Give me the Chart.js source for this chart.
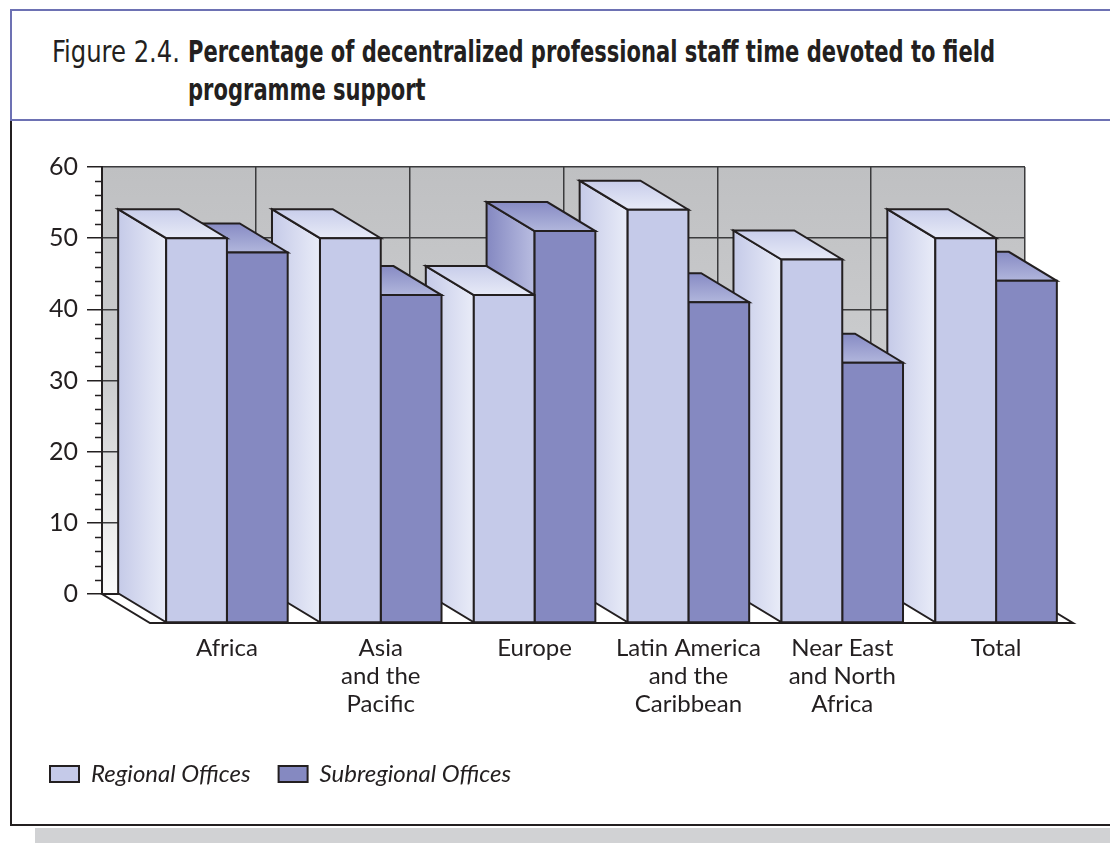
<!DOCTYPE html>
<html>
<head>
<meta charset="utf-8">
<title>Figure 2.4</title>
<script src="https://cdn.jsdelivr.net/npm/chart.js@4"></script>
<style>
  html, body { margin: 0; padding: 0; background: #fff; }
  body { width: 1110px; height: 843px; position: relative; overflow: hidden; color: #231f20; }
  #title-box {
    position: absolute; left: 10px; top: 9px; width: 1100px; height: 108px;
    border-top: 2px solid #6d71b3; border-left: 2px solid #6d71b3; border-bottom: 2px solid #6d71b3;
  }
  .fig {
    position: absolute; top: 32px; white-space: nowrap;
    font-family: "Liberation Sans Narrow", "DejaVu Sans Condensed", Roboto, sans-serif;
    font-stretch: condensed; font-size: 31px; line-height: 38px; transform-origin: 0 0;
  }
  #fig-label { left: 52px; font-weight: 400; }
  #fig-title { left: 188px; font-weight: 700; }
  #frame-left { position: absolute; left: 10px; top: 121px; width: 2px; height: 705px; background: #231f20; }
  #frame-bottom { position: absolute; left: 10px; top: 824px; width: 1100px; height: 2px; background: #231f20; }
  #shadow { position: absolute; left: 35px; top: 828px; width: 1075px; height: 15px; background: #d1d2d4; }
  #chart { position: absolute; left: 0; top: 0; }
</style>
</head>
<body>
<div id="title-box"></div>
<div id="fig-label" class="fig">Figure 2.4.</div>
<div id="fig-title" class="fig"><span id="fig-title-1">Percentage of decentralized professional staff time devoted to field</span><br>programme support</div>
<div id="frame-left"></div>
<div id="frame-bottom"></div>
<div id="shadow"></div>
<canvas id="chart" width="1110" height="843"></canvas>
<script>
const categories = [
  ['Africa'],
  ['Asia', 'and the', 'Pacific'],
  ['Europe'],
  ['Latin America', 'and the', 'Caribbean'],
  ['Near East', 'and North', 'Africa'],
  ['Total']
];
const regionalOffices = [50, 50, 42, 54, 47, 50];
const subregionalOffices = [48, 42, 51, 41, 32.5, 44];
const yTicks = { min: 0, max: 60, step: 10, minorStep: 2 };

// the bars stand in front of the wall; the front plane is shifted right/down by this much
const DX = 48, DY = 29;
const INK = '#231f20';

const faces = [
  { front: '#c5cae9', side: ['#c5cae8', '#e9ecf8'], top: ['#c8cdea', '#e7eaf7'] },
  { front: '#8589c1', side: ['#8488c1', '#b9bde1'], top: ['#878bc4', '#b1b6dc'] }
];

function fitTitle() {
  const fig = document.getElementById('fig-label');
  const head = document.getElementById('fig-title');
  const first = document.getElementById('fig-title-1');
  fig.style.transform = 'none';
  head.style.transform = 'none';
  fig.style.transform = 'scaleX(' + (128 / fig.getBoundingClientRect().width) + ')';
  head.style.transform = 'scaleX(' + (807 / first.getBoundingClientRect().width) + ')';
}
fitTitle();
document.fonts.ready.then(fitTitle);

function poly(ctx, pts, fill) {
  ctx.beginPath();
  ctx.moveTo(pts[0][0], pts[0][1]);
  for (let i = 1; i < pts.length; i++) ctx.lineTo(pts[i][0], pts[i][1]);
  ctx.closePath();
  ctx.fillStyle = fill;
  ctx.fill();
  ctx.stroke();
}

const bars3d = {
  id: 'bars3d',
  beforeDraw(chart) {
    const { ctx, chartArea: a } = chart;
    const g = ctx.createLinearGradient(0, a.top, 0, a.bottom);
    g.addColorStop(0, '#bfc0c2');
    g.addColorStop(0.5, '#cccdcf');
    g.addColorStop(1, '#fbfbfb');
    ctx.save();
    ctx.fillStyle = g;
    ctx.fillRect(a.left, a.top, a.right - a.left, a.bottom - a.top);
    ctx.restore();
  },
  beforeDatasetsDraw(chart) {
    const { ctx, chartArea: a, scales: { y } } = chart;
    const y0 = y.getPixelForValue(0);
    ctx.save();
    ctx.strokeStyle = INK;
    ctx.lineJoin = 'miter';

    // minor ticks on the value axis
    ctx.lineWidth = 1.5;
    for (let v = yTicks.min; v < yTicks.max; v += yTicks.minorStep) {
      if (v % yTicks.step === 0) continue;
      const py = Math.round(y.getPixelForValue(v)) + 0.5;
      ctx.beginPath();
      ctx.moveTo(a.left - 7, py);
      ctx.lineTo(a.left, py);
      ctx.stroke();
    }

    // floor
    ctx.lineWidth = 2;
    poly(ctx, [[a.left, y0], [a.right, y0], [a.right + DX, y0 + DY], [a.left + DX, y0 + DY]], '#ffffff');

    // bars, painted right to left so nearer (left) blocks cover their neighbours
    const bars = [];
    chart.data.datasets.forEach((ds, i) => {
      chart.getDatasetMeta(i).data.forEach(el => {
        const p = el.getProps(['x', 'y', 'base', 'width'], true);
        bars.push({
          L: p.x - p.width / 2 + DX, R: p.x + p.width / 2 + DX,
          T: p.y, B: p.base + DY, f: faces[i]
        });
      });
    });
    bars.sort((p, q) => q.L - p.L);

    bars.forEach(b => {
      const g = ctx.createLinearGradient(b.L - DX, 0, b.L, 0);
      g.addColorStop(0, b.f.side[0]);
      g.addColorStop(1, b.f.side[1]);
      poly(ctx, [[b.L, b.T], [b.L - DX, b.T - DY], [b.L - DX, b.B - DY], [b.L, b.B]], g);
    });
    bars.forEach(b => {
      const g = ctx.createLinearGradient(0, b.T - DY, 0, b.T);
      g.addColorStop(0, b.f.top[0]);
      g.addColorStop(1, b.f.top[1]);
      poly(ctx, [[b.L, b.T], [b.R, b.T], [b.R - DX, b.T - DY], [b.L - DX, b.T - DY]], g);
    });
    bars.forEach(b => {
      poly(ctx, [[b.L, b.T], [b.R, b.T], [b.R, b.B], [b.L, b.B]], b.f.front);
    });
    ctx.restore();
  },
  beforeDatasetDraw() {
    return false;
  }
};

Chart.defaults.font.family = 'Lato, "Open Sans", sans-serif';
Chart.defaults.color = INK;

new Chart(document.getElementById('chart').getContext('2d'), {
  type: 'bar',
  data: {
    labels: categories,
    datasets: [
      { label: 'Regional Offices', data: regionalOffices, backgroundColor: faces[0].front, borderColor: INK, borderWidth: 2 },
      { label: 'Subregional Offices', data: subregionalOffices, backgroundColor: faces[1].front, borderColor: INK, borderWidth: 2 }
    ]
  },
  options: {
    responsive: false,
    devicePixelRatio: 1,
    animation: false,
    categoryPercentage: 0.79,
    barPercentage: 1,
    layout: { padding: { top: 167, right: 85, bottom: 47, left: 22 } },
    scales: {
      x: {
        grid: { offset: true, drawTicks: false, color: '#3b3b3d', lineWidth: 1.5 },
        border: { display: false },
        ticks: {
          labelOffset: DX, padding: 40, autoSkip: false, maxRotation: 0,
          font: { size: 24, lineHeight: 1.17 }, color: INK
        },
        afterFit(scale) { scale.height = 140; }
      },
      y: {
        min: yTicks.min, max: yTicks.max,
        grid: { color: '#3b3b3d', lineWidth: 1.5, tickLength: 15, tickColor: INK },
        border: { display: true, color: INK, width: 2 },
        ticks: { stepSize: yTicks.step, padding: 9, font: { size: 25 }, color: INK },
        afterFit(scale) { scale.width = 80; }
      }
    },
    plugins: {
      tooltip: { enabled: false },
      legend: {
        position: 'bottom',
        align: 'start',
        labels: {
          boxWidth: 29, boxHeight: 16, padding: 28, color: INK,
          font: { size: 24, style: 'italic' }
        }
      }
    }
  },
  plugins: [bars3d]
});
</script>
</body>
</html>
